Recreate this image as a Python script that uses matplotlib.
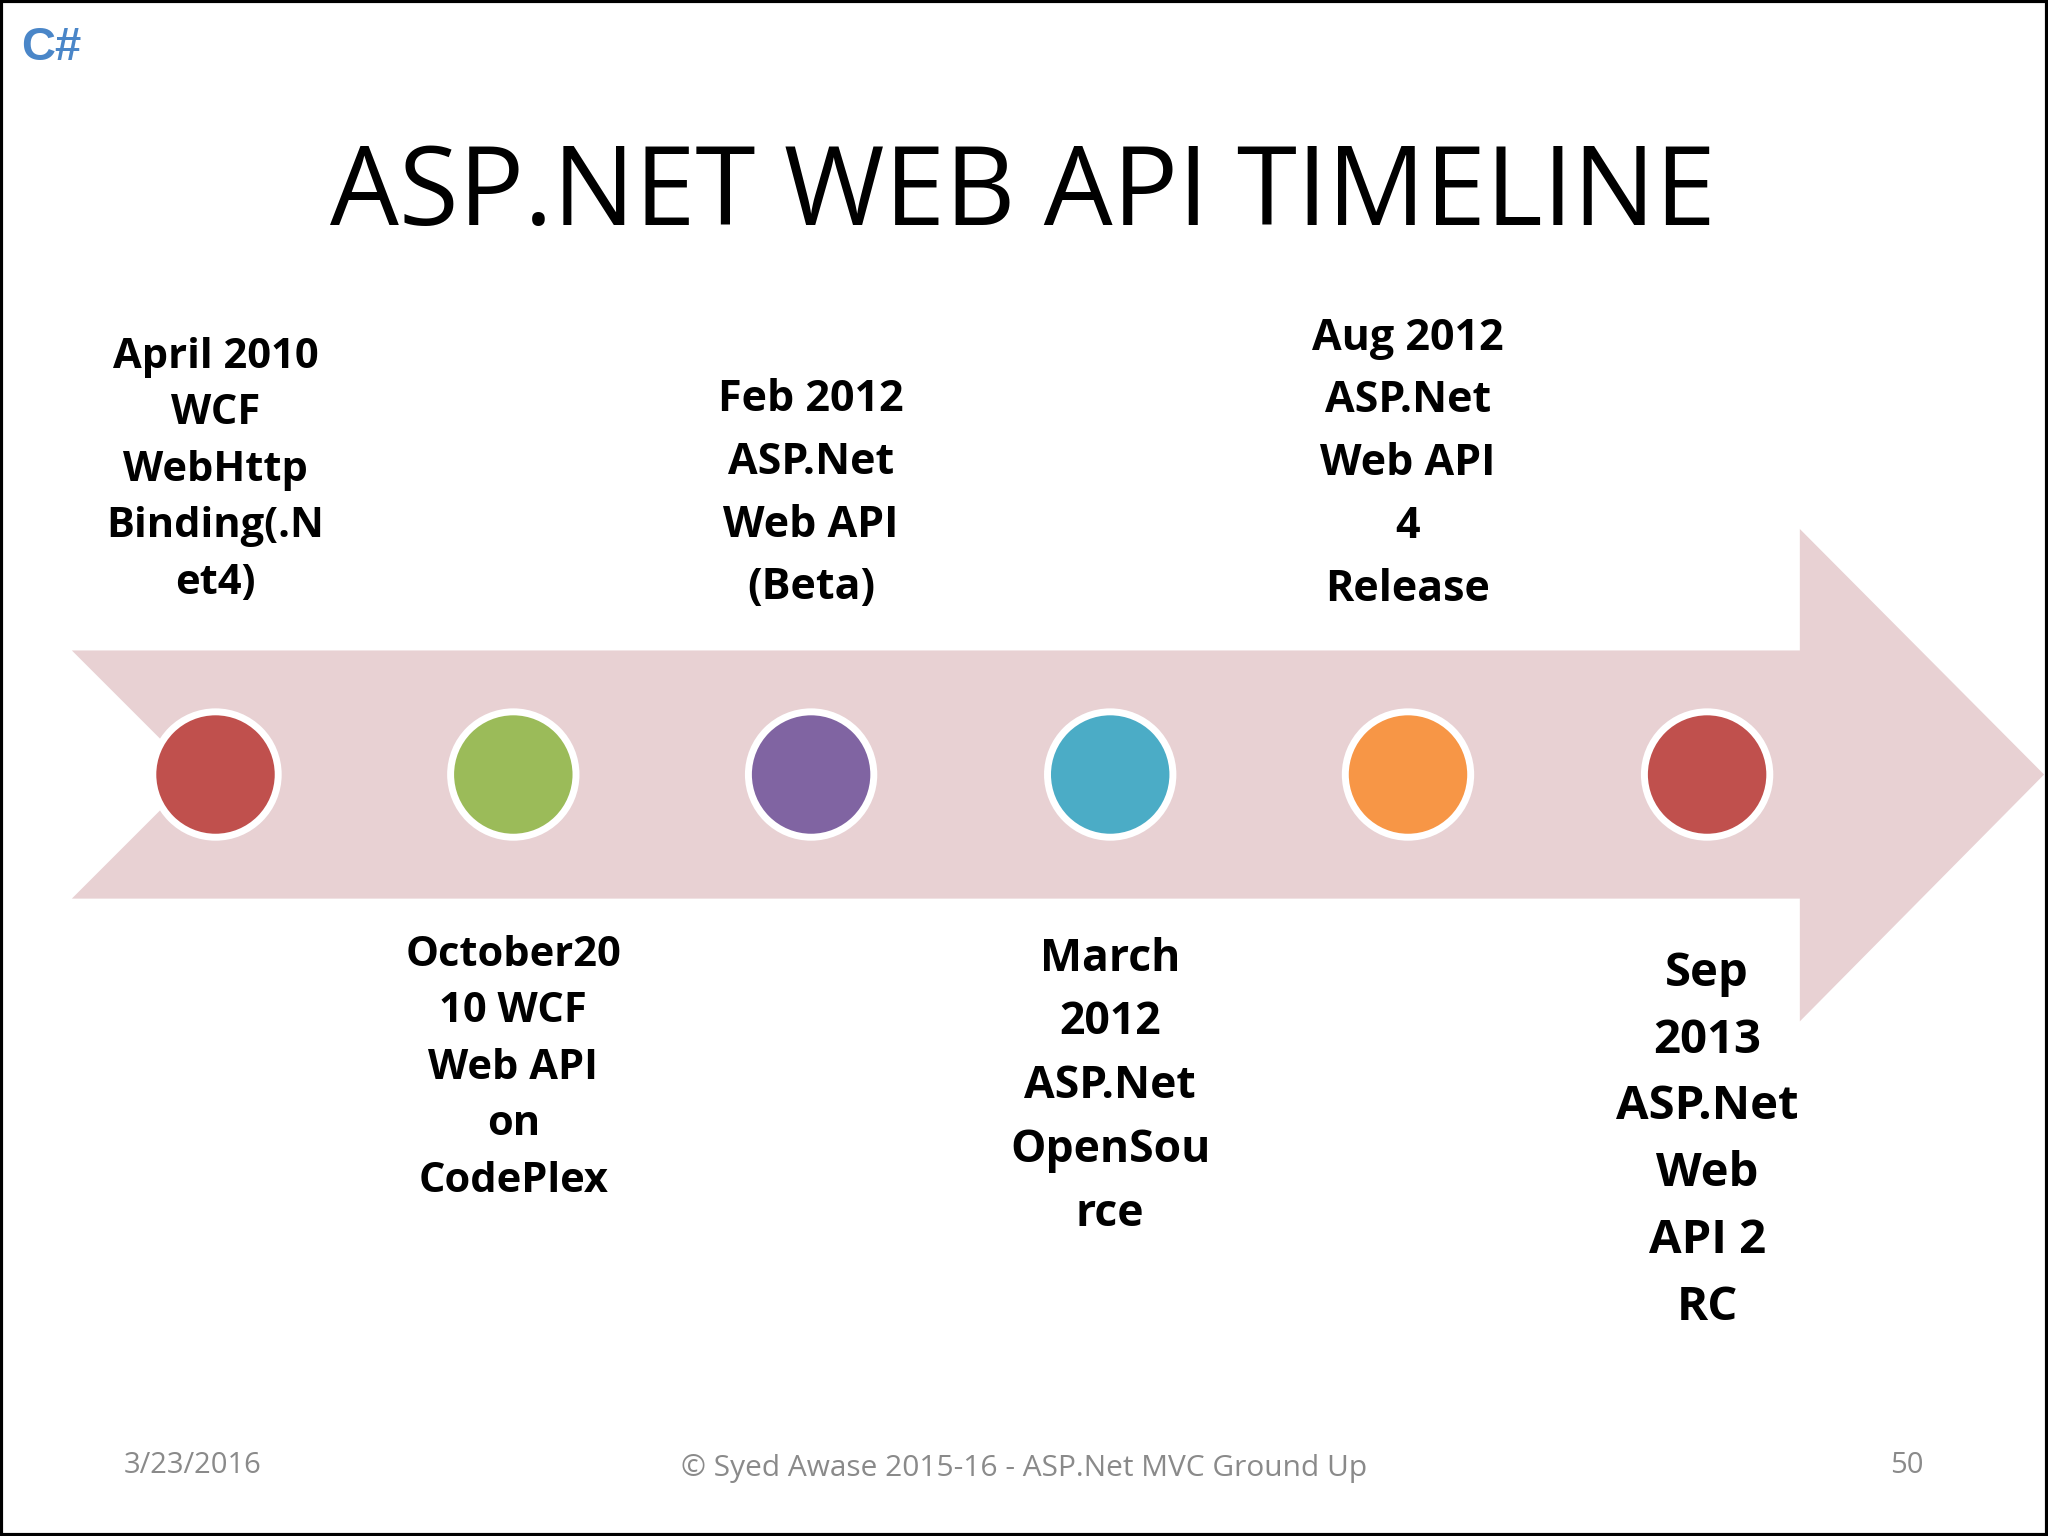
import matplotlib
matplotlib.use("Agg")
import matplotlib.pyplot as plt
from matplotlib.patches import Polygon, Circle, Rectangle

W, H = 1568, 1176
labels = [
    "April 2010\nWCF\nWebHttp\nBinding(.N\net4)",
    "October20\n10 WCF\nWeb API\non\nCodePlex",
    "Feb 2012\nASP.Net\nWeb API\n(Beta)",
    "March\n2012\nASP.Net\nOpenSou\nrce",
    "Aug 2012\nASP.Net\nWeb API\n4\nRelease",
    "Sep\n2013\nASP.Net\nWeb\nAPI 2\nRC",
]
colors = ["#C0504D", "#9BBB59", "#8064A2", "#4BACC6", "#F79646", "#C0504D"]
xs = [165, 393, 621, 850, 1078, 1307]
label_y = [360, 818, 378, 832, 355, 873]
label_size = [30, 30, 31, 32, 31, 34]
label_ls = [1.5, 1.5, 1.6, 1.55, 1.6, 1.55]

fig = plt.figure(figsize=(20.48, 15.36), dpi=100)
ax = fig.add_axes([0, 0, 1, 1])
ax.set_xlim(0, W); ax.set_ylim(H, 0); ax.axis("off")

ax.add_patch(Rectangle((1, 1), W - 2, H - 2, fill=False, ec="black", lw=3))
ax.add_patch(Polygon([(55, 498), (1378, 498), (1378, 405), (1565, 593), (1378, 782),
                      (1378, 688), (55, 688), (150, 593)], closed=True, fc="#E8D1D3", ec="none"))
for x, c in zip(xs, colors):
    ax.add_patch(Circle((x, 593), 48, fc=c, ec="white", lw=5))
for x, y, t, s, ls in zip(xs, label_y, labels, label_size, label_ls):
    ax.text(x, y, t, ha="center", va="center", fontsize=s, fontweight="bold",
            family="Open Sans", linespacing=ls, color="black")

ax.text(783, 150, "ASP.NET WEB API TIMELINE", ha="center", va="center", fontsize=78.5,
        family="Open Sans", color="black")
ax.text(16, 37, "C#", ha="left", va="center", fontsize=34, fontweight="bold",
        family="Liberation Sans", color="#4A86C8")
ax.text(95, 1122, "3/23/2016", ha="left", va="center", fontsize=21, family="Open Sans", color="#8A8A8A")
ax.text(784, 1124, "© Syed Awase 2015-16 - ASP.Net MVC Ground Up", ha="center", va="center",
        fontsize=21.5, family="Open Sans", color="#8A8A8A")
ax.text(1473, 1122, "50", ha="right", va="center", fontsize=21, family="Open Sans", color="#8A8A8A")

fig.savefig("out.png", dpi=100)
